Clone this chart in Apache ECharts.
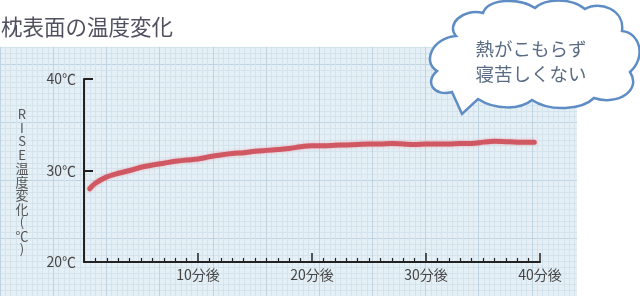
<!DOCTYPE html>
<html><head><meta charset="utf-8">
<script src="https://cdn.jsdelivr.net/npm/echarts@6/dist/echarts.min.js"></script>
<style>html,body{margin:0;padding:0;background:#fff}.c{position:absolute;left:0;top:0;width:640px;height:296px}</style>
</head><body><div class="c" id="bg"></div><div class="c" id="tk"></div><div class="c" id="c"></div>
<script>
const title = '枕表面の温度変化';
const bubbleLines = ['熱がこもらず', '寝苦しくない'];
const yName = ['R','I','S','E','温','度','変','化','(','℃',')'];
const xTicks = [0, 10, 20, 30, 40];
const yTicks = [20, 30, 40];
const minutes = [0.5,1,2,3,4,5,6,7,8,9,10,11,12,13,14,15,16,17,18,19,20,21,22,23,24,25,26,27,28,29,30,31,32,33,34,35,36,37,38,39,39.5];
const temps = [28.0,28.6,29.3,29.7,30.0,30.35,30.6,30.8,31.0,31.15,31.25,31.5,31.7,31.85,31.95,32.1,32.2,32.3,32.4,32.6,32.7,32.7,32.75,32.8,32.85,32.9,32.9,32.95,32.9,32.85,32.9,32.9,32.9,32.95,32.95,33.1,33.2,33.15,33.1,33.1,33.1];

const font = "'Noto Sans CJK JP', 'Noto Sans', sans-serif";
const seriesData = minutes.map((m, i) => [m, temps[i]]);

const cloudStart = [452, 92];
const cloudLines = [[462, 114], [478, 99]];
const cloudCurves = [
  [495,110, 520,110, 532,100],
  [550,112, 582,110, 594,98],
  [618,106, 642,90, 630,72],
  [646,58, 641,33, 622,31],
  [625,10, 600,0, 585,9],
  [570,-3, 545,-1, 535,8],
  [518,-3, 488,-1, 483,13],
  [462,8, 446,25, 456,36],
  [432,38, 422,62, 437,71],
  [424,82, 434,97, 452,92]
];
echarts.graphic.registerShape('cloud', echarts.graphic.extendShape({
  shape: {},
  buildPath: function (ctx) {
    ctx.moveTo(cloudStart[0], cloudStart[1]);
    cloudLines.forEach(p => ctx.lineTo(p[0], p[1]));
    cloudCurves.forEach(c => ctx.bezierCurveTo(c[0], c[1], c[2], c[3], c[4], c[5]));
    ctx.closePath();
  }
}));

// layer 1: graph paper + decorations
echarts.init(document.getElementById('bg')).setOption({
  animation: false,
  grid: [{left: -61.67, top: 6.67, width: 700, height: 291.67, show: true, backgroundColor: '#e5eff6', borderWidth: 0}],
  xAxis: [{type: 'value', min: 0, max: 12, interval: 1,
     axisLine: {show: false}, axisTick: {show: false}, axisLabel: {show: false},
     splitLine: {show: true, lineStyle: {color: '#bfd3e1', width: 1}},
     minorTick: {show: false, splitNumber: 10},
     minorSplitLine: {show: true, lineStyle: {color: '#d5e3ec', width: 1}}}],
  yAxis: [{type: 'value', min: 0, max: 5, interval: 1,
     axisLine: {show: false}, axisTick: {show: false}, axisLabel: {show: false},
     splitLine: {show: true, lineStyle: {color: '#bfd3e1', width: 1}},
     minorTick: {show: false, splitNumber: 10},
     minorSplitLine: {show: true, lineStyle: {color: '#d5e3ec', width: 1}}}],
  graphic: [
    {type: 'rect', z: 20, shape: {x: 0, y: 0, width: 640, height: 46.7}, style: {fill: '#fff'}},
    {type: 'rect', z: 20, shape: {x: 577, y: 0, width: 63, height: 296}, style: {fill: '#fff'}},
    {type: 'text', z: 30, x: 1, y: 27, style: {text: title, font: '21.5px ' + font, fill: '#505060', textVerticalAlign: 'middle', textAlign: 'left'}},
    {type: 'cloud', z: 30, shape: {}, style: {fill: '#fff', stroke: '#5e8cc4', lineWidth: 2.5}},
    {type: 'text', z: 31, x: 531, y: 61, style: {text: bubbleLines.join('\n'), font: '18.5px ' + font, lineHeight: 25, fill: '#5a6c84', textAlign: 'center', textVerticalAlign: 'middle'}},
    {type: 'text', z: 30, x: 22, y: 182, style: {text: yName.join('\n'), font: '13px ' + font, lineHeight: 13.5, fill: '#555', textAlign: 'center', textVerticalAlign: 'middle'}}
  ]
});

// layer 2: axis lines and ticks (plain configuration)
echarts.init(document.getElementById('tk')).setOption({
  animation: false,
  grid: [{left: 84, top: 79, width: 456, height: 183}],
  xAxis: [{gridIndex: 0, type: 'value', min: 0, max: 40, interval: 10,
     axisLine: {show: true, lineStyle: {color: '#222', width: 2}},
     axisTick: {show: true, inside: true, length: 9, lineStyle: {color: '#222', width: 1.5}},
     minorTick: {show: true, splitNumber: 10, length: 4, lineStyle: {color: '#222', width: 1.2}},
     splitLine: {show: false},
     axisLabel: {show: true, fontSize: 10, color: 'rgba(0,0,0,0)', formatter: v => v + 'm'}}],
  yAxis: [{gridIndex: 0, type: 'value', min: 20, max: 40, interval: 10,
     axisLine: {show: true, lineStyle: {color: '#222', width: 2}},
     axisTick: {show: true, inside: true, length: 9, lineStyle: {color: '#222', width: 2}},
     splitLine: {show: false},
     axisLabel: {show: true, fontSize: 10, color: 'rgba(0,0,0,0)', formatter: v => v + 'C'}}],
  series: [{type: 'line', data: seriesData, showSymbol: false, lineStyle: {color: '#d05863', width: 2}}]
});

// layer 3: styled labels and temperature line
echarts.init(document.getElementById('c')).setOption({
  animation: false,
  grid: [{left: 84, top: 79, width: 456, height: 183}],
  xAxis: [{type: 'value', min: 0, max: 40, interval: 10,
     axisLine: {show: false}, axisTick: {show: false}, splitLine: {show: false},
     axisLabel: {show: true, margin: 6, fontSize: 14, color: '#444', fontFamily: font,
       formatter: v => (xTicks.indexOf(v) > 0 ? v + '分後' : '')}}],
  yAxis: [{type: 'value', min: 20, max: 40, interval: 10,
     axisLine: {show: false}, axisTick: {show: false}, splitLine: {show: false},
     axisLabel: {show: true, margin: 8, fontSize: 14, color: '#444', fontFamily: font,
       formatter: v => (yTicks.indexOf(v) >= 0 ? v + '℃' : '')}}],
  series: [{
    type: 'line', data: seriesData, showSymbol: false, smooth: 0.3,
    lineStyle: {color: '#d05863', width: 5, shadowColor: 'rgba(240,150,160,0.7)', shadowBlur: 3, cap: 'round', join: 'round'}
  }]
});
</script></body></html>
